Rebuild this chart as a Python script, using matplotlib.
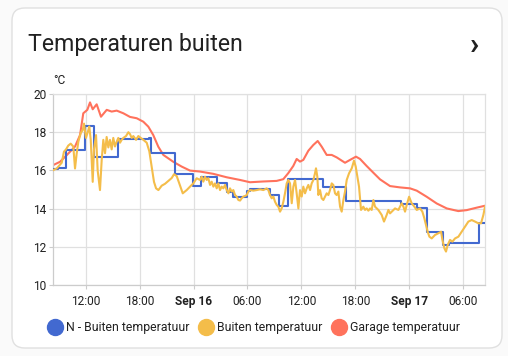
import matplotlib
matplotlib.use("Agg")
import matplotlib.pyplot as plt
from matplotlib.patches import FancyBboxPatch
from matplotlib.lines import Line2D

plt.rcParams['font.family'] = ['Roboto', 'DejaVu Sans']

# hours since Sep 15 00:00
x_range = [8.36, 56.44]
tick_hours = [12, 18, 24, 30, 36, 42, 48, 54]
tick_labels = ["12:00", "18:00", "Sep 16", "06:00", "12:00", "18:00", "Sep 17", "06:00"]
y_ticks = [10, 12, 14, 16, 18, 20]

series_names = ["N - Buiten temperatuur", "Buiten temperatuur", "Garage temperatuur"]
colors = ["#4269d0", "#f4bd4a", "#ff725c"]

# N - Buiten temperatuur (stepped)
n_t = [8.36, 8.9, 9.81, 11.92, 12.92, 15.63, 19.1, 19.23, 21.94, 23.9, 24.83, 26.58,
       27.69, 28.43, 29.92, 30.3, 32.48, 33.55, 34.55, 38.37, 40.96, 47.05, 48.9,
       49.95, 51.8, 52.4, 55.8, 56.44]
n_v = [16.05, 16.15, 17.07, 18.33, 16.72, 17.63, 17.72, 16.93, 15.82, 15.18, 15.63, 15.32,
       14.88, 14.62, 14.92, 15.01, 14.71, 14.14, 15.53, 15.11, 14.41, 14.22, 14.02,
       12.76, 12.1, 12.22, 13.23, 13.23]

# Buiten temperatuur
b_t = [8.32, 8.77, 9.33, 9.58, 9.81, 10.06, 10.33, 10.62, 10.81, 11.0, 11.18, 11.44,
       11.67, 11.81, 12.03, 12.29, 12.4, 12.56, 12.78, 12.92, 13.15, 13.33, 13.59, 13.78,
       13.96, 14.15, 14.33, 14.52, 14.7, 14.89, 15.07, 15.26, 15.45, 15.63, 15.82, 16.0,
       16.19, 16.49, 16.75, 16.93, 17.12, 17.3, 17.6, 17.86, 18.12, 18.42, 18.79, 19.08,
       19.34, 19.6, 19.83, 20.09, 20.46, 20.83, 21.2, 21.57, 21.83, 22.13, 22.5, 22.8,
       23.24, 23.61, 23.98, 24.35, 24.72, 24.91, 25.09, 25.28, 25.47, 25.65, 25.84, 26.02,
       26.21, 26.39, 26.58, 26.76, 26.95, 27.13, 27.32, 27.51, 27.69, 27.88, 28.06, 28.25,
       28.43, 28.62, 28.8, 28.99, 29.18, 29.36, 29.55, 29.73, 29.92, 30.1, 30.29, 30.66,
       31.03, 31.4, 31.77, 32.14, 32.33, 32.51, 32.7, 32.89, 33.07, 33.26, 33.44, 33.63,
       33.81, 34.0, 34.18, 34.37, 34.55, 34.74, 34.93, 35.11, 35.3, 35.48, 35.67, 35.85,
       36.04, 36.22, 36.41, 36.6, 36.78, 36.97, 37.15, 37.34, 37.52, 37.63, 37.78, 37.89,
       38.08, 38.26, 38.45, 38.64, 38.82, 39.01, 39.19, 39.38, 39.56, 39.75, 39.93, 40.12,
       40.31, 40.49, 40.68, 40.86, 41.05, 41.31, 41.61, 41.86, 42.05, 42.24, 42.42, 42.53,
       42.64, 42.9, 43.09, 43.27, 43.46, 43.65, 43.83, 44.02, 44.2, 44.57, 44.94, 45.2,
       45.5, 45.69, 45.87, 46.06, 46.43, 46.8, 47.17, 47.36, 47.54, 47.73, 47.99, 48.28,
       48.58, 48.84, 49.21, 49.47, 49.69, 49.88, 50.06, 50.25, 50.51, 50.88, 51.25, 51.55,
       51.7, 51.92, 52.1, 52.29, 52.55, 52.81, 53.11, 53.48, 53.85, 54.22, 54.59, 54.96,
       55.33, 55.7, 56.0, 56.26, 56.44]
b_v = [16.0, 16.1, 16.4, 16.98, 17.1, 17.3, 17.4, 17.25, 16.1, 16.9, 17.5, 17.95,
       18.12, 18.45, 17.7, 18.1, 18.3, 17.6, 15.4, 17.1, 17.85, 16.0, 14.97, 16.55,
       17.6, 16.9, 17.75, 17.2, 17.6, 17.1, 17.7, 17.25, 17.5, 17.7, 17.45, 17.6,
       17.7, 17.8, 18.0, 17.9, 17.7, 17.8, 17.6, 17.8, 17.7, 17.6, 17.45, 17.0,
       16.2, 15.4, 15.06, 14.97, 15.2, 15.3, 15.45, 15.6, 15.8, 15.7, 15.2, 14.8,
       14.97, 15.15, 15.32, 15.59, 15.5, 15.67, 15.41, 15.67, 15.5, 15.59, 15.24, 15.41,
       15.15, 15.32, 15.06, 15.32, 14.97, 15.15, 15.06, 15.24, 14.97, 14.8, 15.06, 14.89,
       14.97, 14.71, 14.63, 14.45, 14.42, 14.54, 14.63, 14.66, 14.71, 14.89, 14.97, 14.94,
       14.97, 15.01, 14.97, 15.06, 14.97, 14.71, 14.54, 14.63, 14.36, 14.19, 14.1, 13.84,
       14.01, 14.36, 14.8, 15.32, 15.5, 15.32, 14.28, 15.15, 15.5, 14.8, 14.01, 14.97,
       14.63, 15.15, 14.8, 15.06, 15.24, 14.97, 15.32, 15.5, 15.85, 16.11, 15.67, 14.71,
       14.97, 14.54, 14.45, 14.63, 14.8, 14.71, 14.97, 15.32, 15.24, 14.8, 14.71, 14.89,
       14.1, 13.84, 14.45, 14.89, 15.5, 15.85, 16.11, 16.51, 16.2, 15.67, 15.15, 14.54,
       13.93, 14.1, 13.93, 14.01, 13.89, 14.01, 13.93, 14.45, 14.1, 13.93, 13.67, 13.32,
       13.67, 13.93, 13.75, 13.84, 14.01, 13.93, 14.28, 14.1, 13.84, 14.19, 14.62, 14.28,
       14.1, 13.93, 14.01, 13.84, 13.49, 13.14, 12.79, 12.53, 12.44, 12.62, 12.71, 12.79,
       12.36, 11.92, 11.75, 12.1, 12.36, 12.27, 12.44, 12.53, 12.79, 13.06, 13.32, 13.4,
       13.32, 13.23, 13.23, 13.67, 14.1]

# Garage temperatuur
g_t = [8.39, 9.14, 9.89, 10.81, 11.37, 11.73, 12.18, 12.48, 12.78, 13.22, 13.7, 14.34,
       14.89, 15.45, 16.19, 16.93, 17.68, 18.41, 18.97, 19.52, 20.08, 20.64, 21.75, 22.68,
       23.61, 24.72, 26.2, 27.69, 29.17, 30.29, 31.77, 33.25, 33.99, 34.55, 35.1, 35.48,
       35.85, 36.22, 36.78, 37.33, 37.82, 38.27, 38.82, 39.38, 39.94, 40.86, 41.42, 42.08,
       42.53, 43.27, 44.01, 44.76, 45.87, 46.98, 48.1, 48.84, 49.95, 51.06, 52.18, 53.47,
       54.4, 55.52, 56.44]
g_v = [16.28, 16.45, 16.8, 17.25, 17.85, 18.99, 19.17, 19.56, 19.2, 19.46, 18.81, 19.17,
       19.08, 19.13, 18.99, 18.8, 18.73, 18.55, 18.29, 17.85, 17.24, 16.81, 16.45, 16.2,
       15.99, 15.94, 15.82, 15.64, 15.5, 15.38, 15.42, 15.45, 15.54, 15.86, 16.23, 16.6,
       16.46, 16.55, 17.03, 17.33, 17.54, 17.24, 16.81, 16.81, 16.68, 16.4, 16.55, 16.72,
       16.6, 16.23, 15.88, 15.53, 15.18, 15.11, 15.06, 14.94, 14.62, 14.27, 14.01, 13.87,
       13.92, 14.05, 14.15]

W, H = 508, 356
fig = plt.figure(figsize=(W / 100, H / 100), dpi=100)
fig.patch.set_facecolor("#fafafa")

card = FancyBboxPatch((12 / W, 8 / H), 490 / W, 340 / H,
                      boxstyle="round,pad=0,rounding_size=0.025",
                      transform=fig.transFigure, facecolor="white",
                      edgecolor="#e0e0e0", linewidth=1.0, zorder=-10,
                      mutation_aspect=W / H)
fig.patches.append(card)

fig.text(28 / W, 1 - 44 / H, "Temperaturen buiten", fontsize=16.7, color="#212121",
         va="center", ha="left")
fig.text(474 / W, 1 - 45 / H, "\u203a", fontsize=22, color="#212121", fontweight="bold",
         va="center", ha="center")

ax = fig.add_axes([53 / W, 1 - 285 / H, (485 - 53) / W, (285 - 94) / H])
ax.set_facecolor("white")

ax.step(n_t, n_v, where="post", color=colors[0], lw=1.5, zorder=3)
ax.plot(b_t, b_v, color=colors[1], lw=1.5, zorder=4)
ax.plot(g_t, g_v, color=colors[2], lw=1.5, zorder=2)

ax.set_xlim(*x_range)
ax.set_ylim(10, 20)
ax.set_yticks(y_ticks)
ax.set_xticks(tick_hours)
ax.set_xticklabels(tick_labels)
for lbl in ax.get_xticklabels():
    if lbl.get_text().startswith("Sep"):
        lbl.set_fontweight("bold")
ax.grid(True, color="#e0e0e0", lw=0.9)
ax.set_axisbelow(True)
for s in ax.spines.values():
    s.set_color("#e0e0e0")
    s.set_linewidth(0.9)
ax.spines["left"].set_color("#cccccc")
ax.spines["bottom"].set_color("#cccccc")
ax.tick_params(axis="both", length=3, color="#cccccc", labelsize=8.6, labelcolor="#212121")
ax.tick_params(axis="x", pad=4)
ax.tick_params(axis="y", pad=1.5)
ax.text(0.0, 1.035, "°C", transform=ax.transAxes, fontsize=8.6, color="#212121",
        ha="left", va="bottom")

handles = [Line2D([0], [0], marker="o", linestyle="none", markersize=11.5,
                  markerfacecolor=c, markeredgecolor=c) for c in colors]
fig.legend(handles, series_names, loc="center", bbox_to_anchor=(0.5, 1 - 328 / H),
           ncol=3, frameon=False, fontsize=8.8, handletextpad=0.3, columnspacing=0.75,
           handlelength=1.2, labelcolor="#212121")

fig.savefig("out.png", dpi=100, facecolor=fig.get_facecolor())
